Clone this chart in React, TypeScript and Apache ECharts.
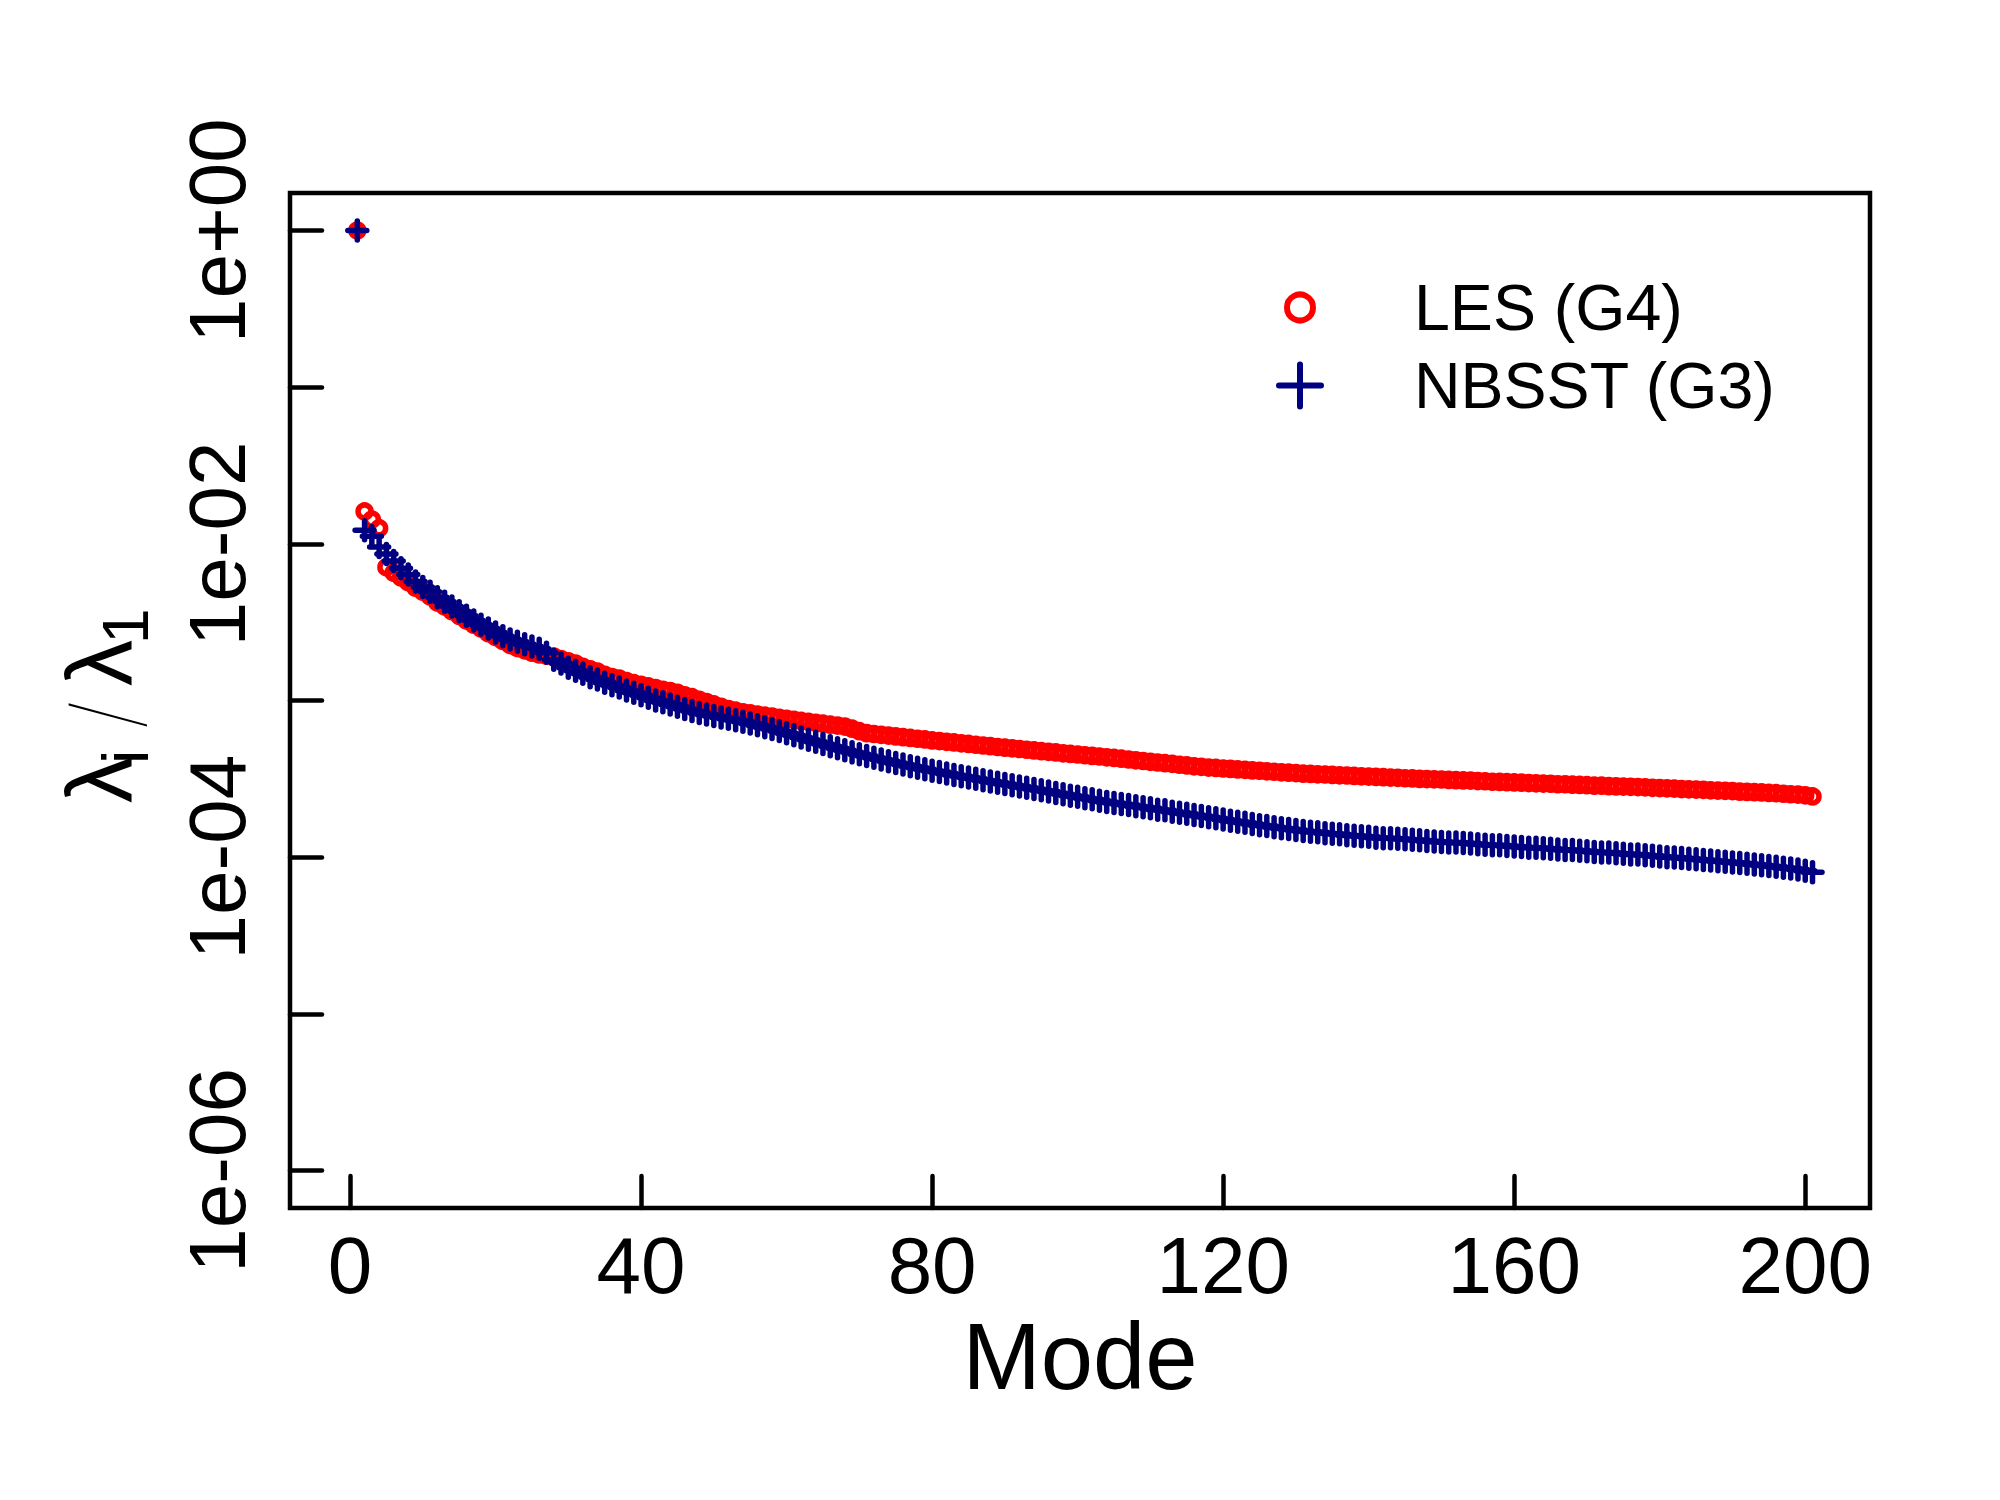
import React, { useEffect, useRef } from "react";
import * as echarts from "echarts";

// λ_i / λ_1 for the LES (G4) eigen-spectrum, modes 1..201
const lesValues = [
  1, 1.61e-2, 1.43e-2, 1.26e-2, 7.08e-3, 6.53e-3, 6.10e-3, 5.69e-3, 5.25e-3, 4.95e-3,
  4.62e-3, 4.22e-3, 3.98e-3, 3.72e-3, 3.47e-3, 3.24e-3, 3.05e-3, 2.88e-3, 2.69e-3, 2.54e-3,
  2.40e-3, 2.26e-3, 2.16e-3, 2.09e-3, 2.02e-3, 1.97e-3, 1.93e-3, 1.91e-3, 1.84e-3, 1.78e-3,
  1.72e-3, 1.64e-3, 1.58e-3, 1.53e-3, 1.46e-3, 1.41e-3, 1.38e-3, 1.33e-3, 1.29e-3, 1.26e-3,
  1.23e-3, 1.20e-3, 1.17e-3, 1.15e-3, 1.12e-3, 1.08e-3, 1.05e-3, 1.01e-3, 9.77e-4, 9.44e-4,
  9.12e-4, 8.81e-4, 8.61e-4, 8.41e-4, 8.28e-4, 8.13e-4, 8.00e-4, 7.89e-4, 7.76e-4, 7.64e-4,
  7.53e-4, 7.41e-4, 7.31e-4, 7.21e-4, 7.11e-4, 7.01e-4, 6.92e-4, 6.82e-4, 6.61e-4, 6.37e-4,
  6.19e-4, 6.11e-4, 6.04e-4, 5.97e-4, 5.90e-4, 5.83e-4, 5.77e-4, 5.70e-4, 5.64e-4, 5.56e-4,
  5.51e-4, 5.45e-4, 5.40e-4, 5.33e-4, 5.28e-4, 5.22e-4, 5.16e-4, 5.11e-4, 5.05e-4, 5.00e-4,
  4.95e-4, 4.90e-4, 4.85e-4, 4.80e-4, 4.75e-4, 4.70e-4, 4.66e-4, 4.60e-4, 4.56e-4, 4.52e-4,
  4.47e-4, 4.43e-4, 4.39e-4, 4.34e-4, 4.30e-4, 4.25e-4, 4.20e-4, 4.15e-4, 4.11e-4, 4.06e-4,
  4.02e-4, 3.98e-4, 3.94e-4, 3.89e-4, 3.85e-4, 3.80e-4, 3.77e-4, 3.73e-4, 3.71e-4, 3.68e-4,
  3.66e-4, 3.63e-4, 3.61e-4, 3.58e-4, 3.56e-4, 3.53e-4, 3.51e-4, 3.48e-4, 3.46e-4, 3.44e-4,
  3.41e-4, 3.40e-4, 3.38e-4, 3.37e-4, 3.35e-4, 3.33e-4, 3.32e-4, 3.30e-4, 3.28e-4, 3.27e-4,
  3.25e-4, 3.24e-4, 3.22e-4, 3.21e-4, 3.19e-4, 3.18e-4, 3.16e-4, 3.15e-4, 3.14e-4, 3.13e-4,
  3.11e-4, 3.10e-4, 3.09e-4, 3.08e-4, 3.06e-4, 3.05e-4, 3.03e-4, 3.02e-4, 3.01e-4, 3.00e-4,
  2.99e-4, 2.97e-4, 2.96e-4, 2.95e-4, 2.94e-4, 2.92e-4, 2.92e-4, 2.90e-4, 2.89e-4, 2.88e-4,
  2.86e-4, 2.86e-4, 2.84e-4, 2.83e-4, 2.82e-4, 2.81e-4, 2.80e-4, 2.79e-4, 2.77e-4, 2.76e-4,
  2.75e-4, 2.74e-4, 2.72e-4, 2.71e-4, 2.70e-4, 2.69e-4, 2.67e-4, 2.66e-4, 2.65e-4, 2.64e-4,
  2.62e-4, 2.61e-4, 2.60e-4, 2.59e-4, 2.57e-4, 2.56e-4, 2.54e-4, 2.52e-4, 2.51e-4, 2.48e-4,
  2.44e-4,
];

// λ_i / λ_1 for the NBSST (G3) eigen-spectrum, modes 1..201
const nbsstValues = [
  1, 1.22e-2, 1.12e-2, 9.55e-3, 8.61e-3, 7.76e-3, 7.00e-3, 6.38e-3, 5.75e-3, 5.31e-3,
  4.95e-3, 4.57e-3, 4.27e-3, 3.98e-3, 3.72e-3, 3.47e-3, 3.24e-3, 3.05e-3, 2.88e-3, 2.72e-3,
  2.57e-3, 2.45e-3, 2.37e-3, 2.29e-3, 2.21e-3, 2.14e-3, 2.02e-3, 1.82e-3, 1.72e-3, 1.62e-3,
  1.55e-3, 1.48e-3, 1.41e-3, 1.36e-3, 1.30e-3, 1.25e-3, 1.21e-3, 1.16e-3, 1.12e-3, 1.08e-3,
  1.04e-3, 1.00e-3, 9.73e-4, 9.42e-4, 9.12e-4, 8.83e-4, 8.57e-4, 8.32e-4, 8.13e-4, 7.96e-4,
  7.80e-4, 7.64e-4, 7.48e-4, 7.31e-4, 7.14e-4, 6.95e-4, 6.76e-4, 6.58e-4, 6.38e-4, 6.19e-4,
  6.00e-4, 5.81e-4, 5.62e-4, 5.45e-4, 5.27e-4, 5.11e-4, 4.95e-4, 4.81e-4, 4.67e-4, 4.54e-4,
  4.42e-4, 4.31e-4, 4.20e-4, 4.09e-4, 3.99e-4, 3.90e-4, 3.81e-4, 3.72e-4, 3.64e-4, 3.56e-4,
  3.49e-4, 3.42e-4, 3.35e-4, 3.28e-4, 3.22e-4, 3.16e-4, 3.10e-4, 3.04e-4, 2.99e-4, 2.93e-4,
  2.88e-4, 2.82e-4, 2.77e-4, 2.72e-4, 2.67e-4, 2.62e-4, 2.57e-4, 2.52e-4, 2.47e-4, 2.43e-4,
  2.38e-4, 2.34e-4, 2.29e-4, 2.25e-4, 2.22e-4, 2.18e-4, 2.15e-4, 2.11e-4, 2.08e-4, 2.05e-4,
  2.01e-4, 1.99e-4, 1.95e-4, 1.92e-4, 1.89e-4, 1.86e-4, 1.83e-4, 1.80e-4, 1.77e-4, 1.74e-4,
  1.71e-4, 1.68e-4, 1.66e-4, 1.63e-4, 1.60e-4, 1.58e-4, 1.55e-4, 1.53e-4, 1.51e-4, 1.49e-4,
  1.47e-4, 1.45e-4, 1.44e-4, 1.42e-4, 1.41e-4, 1.40e-4, 1.38e-4, 1.37e-4, 1.36e-4, 1.35e-4,
  1.33e-4, 1.32e-4, 1.32e-4, 1.31e-4, 1.30e-4, 1.29e-4, 1.28e-4, 1.27e-4, 1.26e-4, 1.25e-4,
  1.24e-4, 1.24e-4, 1.23e-4, 1.22e-4, 1.21e-4, 1.20e-4, 1.19e-4, 1.19e-4, 1.18e-4, 1.17e-4,
  1.16e-4, 1.15e-4, 1.15e-4, 1.14e-4, 1.13e-4, 1.12e-4, 1.11e-4, 1.11e-4, 1.10e-4, 1.09e-4,
  1.08e-4, 1.07e-4, 1.07e-4, 1.06e-4, 1.05e-4, 1.04e-4, 1.04e-4, 1.03e-4, 1.02e-4, 1.01e-4,
  1.00e-4, 9.95e-5, 9.86e-5, 9.77e-5, 9.68e-5, 9.59e-5, 9.51e-5, 9.42e-5, 9.33e-5, 9.25e-5,
  9.16e-5, 9.08e-5, 8.97e-5, 8.87e-5, 8.77e-5, 8.67e-5, 8.57e-5, 8.45e-5, 8.34e-5, 8.20e-5,
  8.00e-5,
];

const seriesNames = ["LES (G4)", "NBSST (G3)"];
const xTickValues = [0, 40, 80, 120, 160, 200];
const yTickValues = [1e-6, 1e-5, 1e-4, 1e-3, 1e-2, 1e-1, 1];
const yLabelValues = [1e-6, 1e-4, 1e-2, 1];

const FONT = "'Liberation Sans', Arial, Helvetica, sans-serif";
const PLUS = "path://M0,11H22M11,0V22";

function fmtExp(v: number): string {
  const e = Math.round(Math.log10(v));
  return "1e" + (e < 0 ? "-" : "+") + String(Math.abs(e)).padStart(2, "0");
}

export default function App() {
  const ref = useRef<HTMLDivElement>(null);

  useEffect(() => {
    if (!ref.current) return;
    const chart = echarts.init(ref.current, undefined, { renderer: "svg" });
    const lesData = lesValues.map((v, i) => [i + 1, v]);
    const nbsstData = nbsstValues.map((v, i) => [i + 1, v]);

    const legendText = { fontSize: 64.5, fontFamily: FONT, color: "#000000" };

    const option: any = {
      animation: false,
      backgroundColor: "#ffffff",
      grid: {
        left: 290,
        top: 193,
        width: 1580,
        height: 1015,
        show: true,
        borderColor: "#000000",
        borderWidth: 4.5,
        backgroundColor: "transparent",
        containLabel: false,
        outerBoundsMode: "none",
      },
      legend: [
        {
          data: [seriesNames[0]],
          orient: "vertical",
          left: 1284,
          top: 275,
          padding: 0,
          itemWidth: 218,
          itemHeight: 26,
          selectedMode: false,
          textStyle: legendText,
          itemStyle: { color: "rgba(0,0,0,0)", borderColor: "#ff0000", borderWidth: 6 },
        },
        {
          data: [seriesNames[1]],
          orient: "vertical",
          left: 1276,
          top: 353,
          padding: 0,
          itemWidth: 218,
          itemHeight: 42,
          selectedMode: false,
          textStyle: legendText,
          itemStyle: {
            color: "rgba(0,0,0,0)",
            borderColor: "#000080",
            borderWidth: 6,
            borderCap: "round",
          },
        },
      ],
      xAxis: {
        type: "value",
        min: -8.25,
        max: 208.9,
        name: "Mode",
        nameLocation: "middle",
        nameGap: 98,
        nameTextStyle: { fontSize: 94, fontFamily: FONT, color: "#000000" },
        axisLine: { show: false, onZero: false },
        splitLine: { show: false },
        axisTick: {
          show: true,
          inside: true,
          length: 32,
          customValues: xTickValues,
          lineStyle: { color: "#000000", width: 4.5, cap: "round" },
        },
        axisLabel: {
          customValues: xTickValues,
          margin: 17,
          fontSize: 80,
          fontFamily: FONT,
          color: "#000000",
        },
      },
      yAxis: {
        type: "log",
        logBase: 10,
        min: Math.pow(10, -6.24),
        max: Math.pow(10, 0.24),
        axisLine: { show: false, onZero: false },
        splitLine: { show: false },
        minorTick: { show: false },
        axisTick: {
          show: true,
          inside: true,
          length: 32,
          customValues: yTickValues,
          lineStyle: { color: "#000000", width: 4.5, cap: "round" },
        },
        axisLabel: {
          customValues: yLabelValues,
          rotate: 90,
          margin: 33,
          fontSize: 80,
          fontFamily: FONT,
          color: "#000000",
          formatter: (v: number) => fmtExp(v),
        },
      },
      graphic: [
        {
          type: "group",
          x: 131,
          y: 706,
          rotation: Math.PI / 2,
          silent: true,
          children: [
            {
              type: "text",
              x: -97,
              y: -31.9,
              style: { text: "λ", fontSize: 92, fontFamily: FONT, fill: "#000000", align: "left", verticalAlign: "middle" },
            },
            {
              type: "text",
              x: -58,
              y: -5.2,
              style: { text: "i", fontSize: 64, fontFamily: FONT, fill: "#000000", align: "left", verticalAlign: "middle" },
            },
            {
              type: "text",
              x: -9,
              y: -27,
              style: {
                text: "/",
                fontSize: 90,
                fontFamily: "Inter, 'DejaVu Sans', sans-serif",
                fontWeight: 100,
                fill: "#000000",
                align: "center",
                verticalAlign: "middle",
              },
            },
            {
              type: "text",
              x: 20,
              y: -31.9,
              style: { text: "λ", fontSize: 92, fontFamily: FONT, fill: "#000000", align: "left", verticalAlign: "middle" },
            },
            {
              type: "text",
              x: 62,
              y: -5.2,
              style: { text: "1", fontSize: 64, fontFamily: FONT, fill: "#000000", align: "left", verticalAlign: "middle" },
            },
          ],
        },
      ],
      series: [
        {
          name: seriesNames[0],
          type: "scatter",
          data: lesData,
          symbol: "circle",
          symbolSize: 13,
          itemStyle: { color: "rgba(0,0,0,0)", borderColor: "#ff0000", borderWidth: 5.5, opacity: 1 },
          emphasis: { disabled: true },
          z: 2,
        },
        {
          name: seriesNames[1],
          type: "scatter",
          data: nbsstData,
          symbol: PLUS,
          symbolSize: 19,
          itemStyle: {
            color: "rgba(0,0,0,0)",
            borderColor: "#000080",
            borderWidth: 5.5,
            borderCap: "round",
            opacity: 1,
          },
          emphasis: { disabled: true },
          z: 3,
        },
      ],
    };

    chart.setOption(option);
    return () => chart.dispose();
  }, []);

  return (
    <div
      ref={ref}
      style={{ position: "absolute", left: 0, top: 0, width: 2000, height: 1500, background: "#fff" }}
    />
  );
}
